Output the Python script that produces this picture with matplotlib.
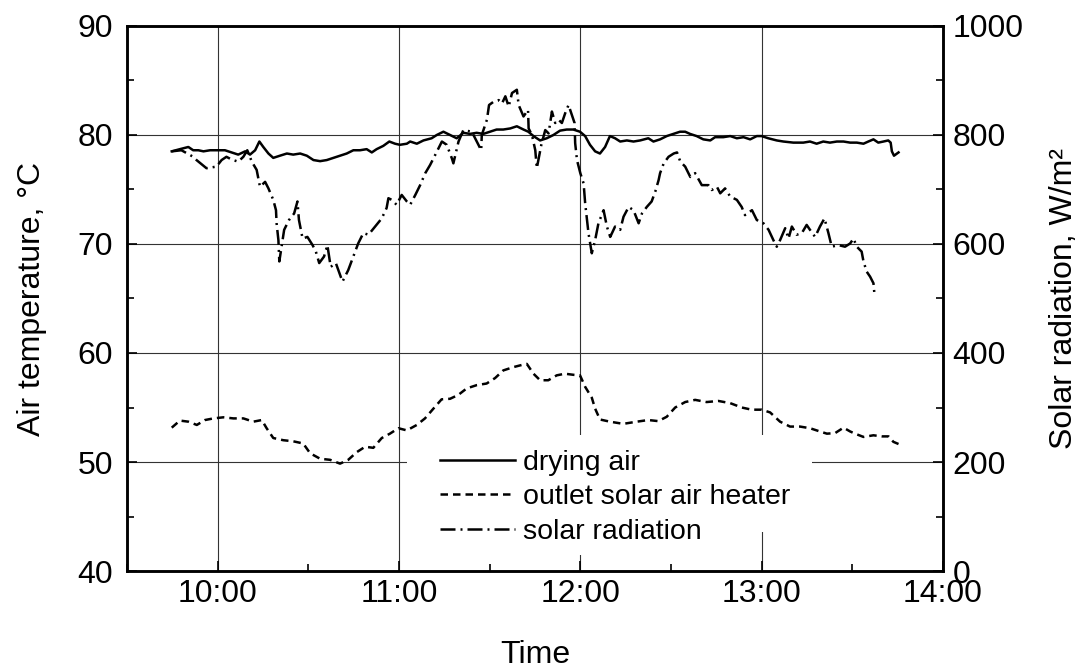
import numpy as np
import matplotlib.pyplot as plt
from matplotlib.ticker import MultipleLocator, FuncFormatter
from matplotlib.patches import Rectangle

plt.rcParams['font.family'] = ['Liberation Sans', 'DejaVu Sans']

# time in minutes after midnight
t_dry = [584.8, 587.5, 590.3, 591.9, 593.6, 595.3, 597.5, 600.2, 602.4, 604.6,
         606.8, 609.1, 610.7, 612.4, 613.8, 615.1, 616.8, 618.4, 620.6, 622.9,
         625.0, 627.3, 629.5, 631.7, 633.9, 636.1, 638.3, 640.5, 642.7, 644.9,
         647.1, 649.3, 651.0, 652.6, 654.8, 656.8, 658.7, 660.3, 662.6, 663.7,
         665.9, 668.1, 670.8, 672.5, 674.7, 676.9, 679.1, 681.3, 683.5, 685.7,
         687.9, 690.1, 692.3, 694.5, 696.8, 699.0, 701.2, 702.8, 704.5, 706.7,
         708.9, 711.1, 713.3, 715.5, 717.7, 719.9, 721.6, 723.2, 724.9, 726.5,
         728.2, 729.8, 731.5, 733.2, 735.4, 737.6, 739.8, 742.5, 744.2, 746.4,
         748.6, 750.8, 753.0, 754.7, 756.3, 758.5, 760.7, 763.0, 764.6, 767.3,
         769.6, 771.8, 774.0, 776.2, 778.4, 780.0, 782.2, 785.0, 787.2, 790.5,
         793.8, 796.0, 798.2, 800.4, 802.6, 804.9, 807.1, 809.3, 811.5, 813.7,
         815.3, 817.0, 818.6, 820.3, 821.9, 822.7, 823.1, 823.8, 825.3]
T_dry = [78.5, 78.7, 78.9, 78.6, 78.6, 78.5, 78.6, 78.6, 78.6, 78.4,
         78.2, 78.5, 78.2, 78.6, 79.4, 78.9, 78.3, 77.9, 78.1, 78.3,
         78.2, 78.3, 78.1, 77.7, 77.6, 77.7, 77.9, 78.1, 78.3, 78.6,
         78.6, 78.7, 78.4, 78.7, 79.0, 79.4, 79.2, 79.1, 79.2, 79.4,
         79.2, 79.5, 79.7, 80.0, 80.3, 80.0, 79.7, 80.2, 80.1, 80.2,
         80.1, 80.3, 80.5, 80.5, 80.6, 80.8, 80.5, 80.3, 79.9, 79.5,
         79.7, 80.0, 80.4, 80.5, 80.5, 80.3, 79.9, 79.1, 78.5, 78.3,
         78.9, 79.9, 79.7, 79.4, 79.5, 79.4, 79.5, 79.7, 79.4, 79.6,
         79.9, 80.1, 80.3, 80.3, 80.1, 79.9, 79.6, 79.5, 79.8, 79.8,
         79.9, 79.7, 79.8, 79.6, 79.9, 79.9, 79.7, 79.5, 79.4, 79.3,
         79.3, 79.4, 79.2, 79.4, 79.3, 79.4, 79.4, 79.3, 79.3, 79.2,
         79.4, 79.6, 79.3, 79.4, 79.5, 79.3, 78.5, 78.1, 78.4]

t_out = [584.8, 587.5, 590.3, 593.1, 595.8, 598.6, 601.9, 605.2, 608.5, 611.8,
         614.6, 616.2, 618.4, 621.7, 625.0, 628.3, 630.6, 633.9, 637.2, 640.5,
         643.2, 646.0, 648.8, 651.5, 654.3, 657.0, 659.8, 662.6, 665.9, 668.6,
         671.4, 674.1, 676.9, 679.6, 682.4, 685.7, 689.0, 691.8, 694.5, 697.8,
         700.6, 702.3, 704.5, 706.7, 709.4, 712.2, 714.9, 717.7, 719.9, 721.6,
         723.8, 724.9, 726.5, 729.8, 734.2, 738.7, 742.5, 745.8, 748.6, 751.4,
         754.7, 758.0, 761.8, 765.7, 769.6, 773.4, 776.7, 780.0, 782.8, 786.1,
         789.4, 792.7, 796.0, 799.3, 801.6, 804.3, 807.1, 809.3, 810.9, 813.7,
         817.0, 819.8, 822.0, 823.6, 825.3]
T_out = [53.15, 53.8, 53.7, 53.4, 53.85, 54.0, 54.1, 54.0, 54.0, 53.7,
         53.85, 53.1, 52.2, 52.0, 51.9, 51.7, 50.8, 50.3, 50.2, 49.85,
         50.2, 50.9, 51.4, 51.3, 52.2, 52.6, 53.1, 52.9, 53.4, 54.0,
         54.9, 55.75, 55.8, 56.15, 56.75, 57.05, 57.2, 57.7, 58.4, 58.7,
         58.9, 59.0, 58.1, 57.5, 57.5, 57.95, 58.1, 58.0, 57.95, 56.9,
         55.9, 54.9, 53.9, 53.7, 53.5, 53.7, 53.85, 53.75, 54.15, 55.0,
         55.5, 55.7, 55.5, 55.6, 55.4, 55.0, 54.8, 54.8, 54.55, 53.7,
         53.25, 53.25, 53.1, 52.8, 52.6, 52.65, 53.15, 52.8, 52.6, 52.3,
         52.45, 52.35, 52.35, 51.85, 51.65]

t_rad = [584.8, 588.0, 591.9, 593.0, 596.3, 599.6, 601.3, 602.9, 604.6, 606.8,
         608.5, 609.8, 611.3, 612.9, 614.0, 615.7, 616.8, 618.4, 619.3, 619.5,
         620.1, 620.4, 622.0, 623.6, 625.3, 626.4, 626.9, 628.1, 629.7, 631.4,
         632.5, 633.6, 635.2, 636.3, 637.4, 639.1, 641.3, 643.2, 644.9, 646.5,
         648.2, 649.9, 652.1, 654.3, 655.9, 656.5, 657.6, 659.2, 660.9, 662.6,
         663.7, 665.4, 667.0, 668.7, 670.3, 671.4, 673.1, 674.2, 675.8, 677.5,
         678.0, 679.7, 681.3, 684.1, 687.2, 687.4, 689.1, 689.8, 691.3, 693.0,
         694.1, 695.2, 696.3, 697.4, 699.0, 699.6, 701.2, 702.7, 702.9, 704.0,
         705.1, 705.6, 707.1, 708.4, 709.5, 710.6, 711.7, 712.8, 713.9, 715.0,
         716.1, 717.2, 718.1, 718.3, 718.9, 720.0, 721.1, 721.6, 722.2, 722.7,
         723.8, 724.9, 726.0, 727.7, 728.8, 729.9, 731.5, 733.2, 734.3, 736.0,
         737.6, 739.3, 740.4, 742.0, 743.6, 744.8, 745.9, 746.4, 747.6, 749.2,
         750.9, 752.0, 753.1, 754.7, 756.4, 758.0, 760.2, 762.4, 763.5, 765.2,
         766.3, 767.9, 769.6, 771.8, 773.4, 774.5, 776.8, 778.4, 780.6, 782.3,
         783.9, 785.0, 786.1, 787.8, 788.9, 790.0, 791.6, 793.3, 794.9, 796.0,
         797.7, 799.3, 800.8, 802.1, 803.2, 805.4, 807.6, 809.3, 810.4, 811.5,
         813.1, 813.7, 814.8, 815.9, 817.0, 817.3]
rad = [770, 772, 760, 754, 739, 742, 754, 760, 755, 751,
       760, 772, 751, 736, 705, 714, 702, 681, 662, 638,
       607, 568, 626, 644, 656, 678, 644, 610, 613, 598,
       586, 565, 577, 598, 558, 565, 531, 552, 577, 601,
       620, 617, 632, 647, 666, 684, 681, 672, 690, 678,
       672, 690, 708, 730, 745, 757, 776, 788, 782, 757,
       748, 788, 809, 806, 772, 800, 828, 855, 861, 864,
       858, 871, 852, 877, 883, 855, 834, 846, 812, 800,
       772, 739, 782, 809, 803, 843, 822, 828, 822, 840,
       855, 837, 822, 785, 754, 730, 711, 675, 644, 620,
       583, 607, 638, 662, 632, 613, 632, 626, 650, 668,
       662, 638, 656, 668, 678, 696, 717, 730, 748, 760,
       766, 768, 751, 742, 723, 730, 708, 708, 699, 705,
       693, 702, 687, 681, 668, 653, 662, 644, 638, 626,
       607, 595, 607, 629, 610, 632, 617, 620, 635, 626,
       613, 632, 647, 620, 595, 598, 595, 601, 610, 595,
       586, 568, 549, 540, 528, 510]

series_labels = ['drying air', 'outlet solar air heater', 'solar radiation']
x_ticks = [600, 660, 720, 780, 840]


def hhmm(m, pos=None):
    return '{:d}:{:02d}'.format(int(m // 60), int(round(m % 60)))


f, ax = plt.subplots(figsize=(10.8, 6.68), dpi=100)
f.subplots_adjust(left=0.1176, right=0.8731, top=0.9611, bottom=0.1452)
ax2 = ax.twinx()

lw = 1.8
l1, = ax.plot(t_dry, T_dry, color='k', lw=lw, ls='-', zorder=3)
l2, = ax.plot(t_out, T_out, color='k', lw=lw, ls=(0, (3.0, 2.0)), zorder=3)
l3, = ax2.plot(t_rad, rad, color='k', lw=lw, ls=(0, (6, 2, 0.8, 2)), zorder=3)

ax.set_xlim(570, 840)
ax.set_ylim(40, 90)
ax2.set_ylim(0, 1000)

ax.set_xticks(x_ticks)
ax.xaxis.set_minor_locator(MultipleLocator(30))
ax.xaxis.set_major_formatter(FuncFormatter(hhmm))
ax.yaxis.set_major_locator(MultipleLocator(10))
ax.yaxis.set_minor_locator(MultipleLocator(5))
ax2.yaxis.set_major_locator(MultipleLocator(200))
ax2.yaxis.set_minor_locator(MultipleLocator(100))

ax.set_axisbelow(True)
ax.grid(True, which='major', color='0.2', lw=0.8)
# white boxes behind the legend entries hide the grid there
ax.add_patch(Rectangle((0.343, 0.0716), 0.4963, 0.178, transform=ax.transAxes,
                       facecolor='w', edgecolor='none', zorder=1))
ax.add_patch(Rectangle((0.343, 0.0294), 0.36, 0.05, transform=ax.transAxes,
                       facecolor='w', edgecolor='none', zorder=1))

ax.tick_params(which='both', direction='in', top=False, right=False, labelsize=23, width=1.2)
ax.tick_params(axis='y', which='major', length=7, pad=10)
ax.tick_params(axis='x', which='major', length=7, pad=6)
ax.tick_params(which='minor', length=5)
ax2.tick_params(which='both', direction='in', left=False, labelsize=23, width=1.2)
ax2.tick_params(which='major', length=7, pad=7)
ax2.tick_params(which='minor', length=5)

for a in (ax, ax2):
    for sp in a.spines.values():
        sp.set_linewidth(1.8)

ax.set_xlabel('Time', fontsize=23, labelpad=22)
ax.set_ylabel('Air temperature, °C', fontsize=23, labelpad=22)
ax2.set_ylabel('Solar radiation, W/m²', fontsize=23, labelpad=18)

ax2.legend([l1, l2, l3], series_labels, fontsize=20.5, frameon=False,
           handlelength=2.65, handletextpad=0.25, labelspacing=0.3,
           borderpad=0, borderaxespad=0, loc='upper left',
           bbox_to_anchor=(0.3836, 0.2222), bbox_transform=ax.transAxes)

f.savefig('out.png', dpi=100)
